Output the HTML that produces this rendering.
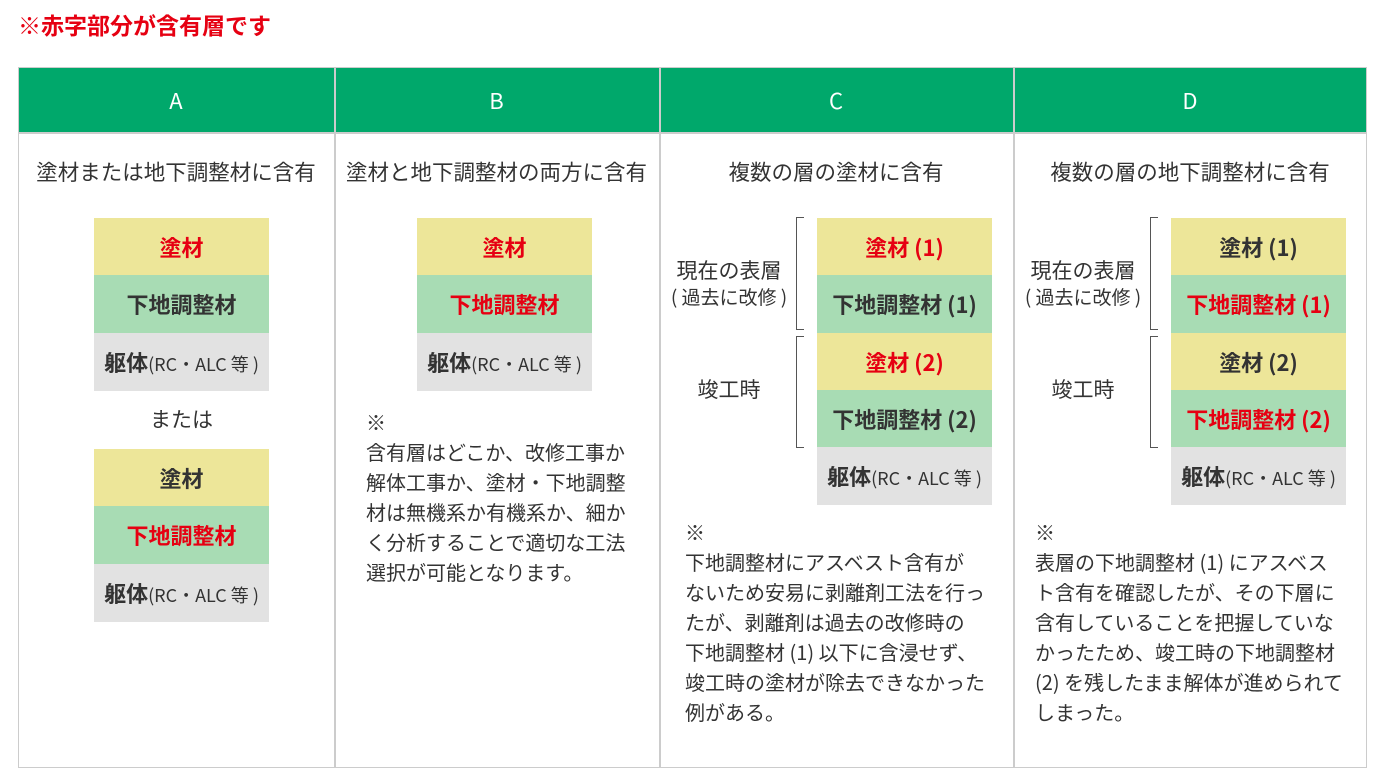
<!DOCTYPE html>
<html><head><meta charset="utf-8"><style>
*{margin:0;padding:0;box-sizing:border-box}
body{width:1383px;height:777px;background:#fff;position:relative;overflow:hidden;font-family:"Noto Sans CJK JP","Liberation Sans",sans-serif;color:#333}
.a{position:absolute}
.title{left:18px;top:8px;font-size:23px;line-height:32px;font-weight:bold;color:#e60012;white-space:nowrap}
.tbl{left:18px;top:67px;width:1349px;height:701px;border:1.5px solid #ccc}
.hd{top:67px;height:66px;background:#00a86b;color:#fff;font-size:22px;text-align:center;line-height:66px}
.vl{top:67px;width:1.5px;height:701px;background:#ccc}
.hl{left:18px;top:132px;width:1349px;height:1.5px;background:#ccc}
.sub{top:157px;font-size:21.5px;line-height:30px;text-align:center;white-space:nowrap}
.bx{width:175px;height:58px;font-size:22px;font-weight:bold;text-align:center;line-height:58px;white-space:nowrap}
.y{background:#ede699}.g{background:#a8dcb4}.k{background:#e2e2e2}
.r{color:#e60012}
.k span{font-weight:normal;font-size:18px}
.note{font-size:20px;line-height:30px;white-space:nowrap}
.br{width:8px;border:1.5px solid #555;border-right:none}
.lb{font-size:21px;text-align:center;line-height:26px;white-space:nowrap}
</style></head><body>
<div class="a title">※赤字部分が含有層です</div>
<div class="a hd" style="left:18px;width:316px">A</div>
<div class="a hd" style="left:334px;width:325px">B</div>
<div class="a hd" style="left:659px;width:354px">C</div>
<div class="a hd" style="left:1013px;width:354px">D</div>
<div class="a tbl"></div>
<div class="a hl"></div>
<div class="a vl" style="left:334px"></div>
<div class="a vl" style="left:659px"></div>
<div class="a vl" style="left:1013px"></div>

<div class="a sub" style="left:18px;width:316px">塗材または地下調整材に含有</div>
<div class="a sub" style="left:334px;width:325px">塗材と地下調整材の両方に含有</div>
<div class="a sub" style="left:659px;width:354px">複数の層の塗材に含有</div>
<div class="a sub" style="left:1013px;width:354px">複数の層の地下調整材に含有</div>

<!-- A -->
<div class="a bx y r" style="left:94px;top:218px">塗材</div>
<div class="a bx g" style="left:94px;top:275px">下地調整材</div>
<div class="a bx k" style="left:94px;top:333px">躯体<span>(RC・ALC 等 )</span></div>
<div class="a lb" style="left:94px;top:406px;width:175px">または</div>
<div class="a bx y" style="left:94px;top:449px">塗材</div>
<div class="a bx g r" style="left:94px;top:506px">下地調整材</div>
<div class="a bx k" style="left:94px;top:564px">躯体<span>(RC・ALC 等 )</span></div>

<!-- B -->
<div class="a bx y r" style="left:417px;top:218px">塗材</div>
<div class="a bx g r" style="left:417px;top:275px">下地調整材</div>
<div class="a bx k" style="left:417px;top:333px">躯体<span>(RC・ALC 等 )</span></div>
<div class="a note" style="left:366px;top:407px">※<br>含有層はどこか、改修工事か<br>解体工事か、塗材・下地調整<br>材は無機系か有機系か、細か<br>く分析することで適切な工法<br>選択が可能となります。</div>

<!-- C -->
<div class="a bx y r" style="left:817px;top:218px">塗材 (1)</div>
<div class="a bx g" style="left:817px;top:275px">下地調整材 (1)</div>
<div class="a bx y r" style="left:817px;top:333px">塗材 (2)</div>
<div class="a bx g" style="left:817px;top:390px">下地調整材 (2)</div>
<div class="a bx k" style="left:817px;top:447px">躯体<span>(RC・ALC 等 )</span></div>
<div class="a br" style="left:796px;top:217px;height:113px"></div>
<div class="a br" style="left:796px;top:336px;height:112px"></div>
<div class="a lb" style="left:662px;top:257px;width:134px">現在の表層<br><span style="font-size:19px">( 過去に改修 )</span></div>
<div class="a lb" style="left:662px;top:376px;width:134px">竣工時</div>
<div class="a note" style="left:685px;top:517px">※<br>下地調整材にアスベスト含有が<br>ないため安易に剥離剤工法を行っ<br>たが、剥離剤は過去の改修時の<br>下地調整材 (1) 以下に含浸せず、<br>竣工時の塗材が除去できなかった<br>例がある。</div>

<!-- D -->
<div class="a bx y" style="left:1171px;top:218px">塗材 (1)</div>
<div class="a bx g r" style="left:1171px;top:275px">下地調整材 (1)</div>
<div class="a bx y" style="left:1171px;top:333px">塗材 (2)</div>
<div class="a bx g r" style="left:1171px;top:390px">下地調整材 (2)</div>
<div class="a bx k" style="left:1171px;top:447px">躯体<span>(RC・ALC 等 )</span></div>
<div class="a br" style="left:1150px;top:217px;height:113px"></div>
<div class="a br" style="left:1150px;top:336px;height:112px"></div>
<div class="a lb" style="left:1016px;top:257px;width:134px">現在の表層<br><span style="font-size:19px">( 過去に改修 )</span></div>
<div class="a lb" style="left:1016px;top:376px;width:134px">竣工時</div>
<div class="a note" style="left:1035px;top:517px">※<br>表層の下地調整材 (1) にアスベス<br>ト含有を確認したが、その下層に<br>含有していることを把握していな<br>かったため、竣工時の下地調整材<br>(2) を残したまま解体が進められて<br>しまった。</div>
</body></html>
